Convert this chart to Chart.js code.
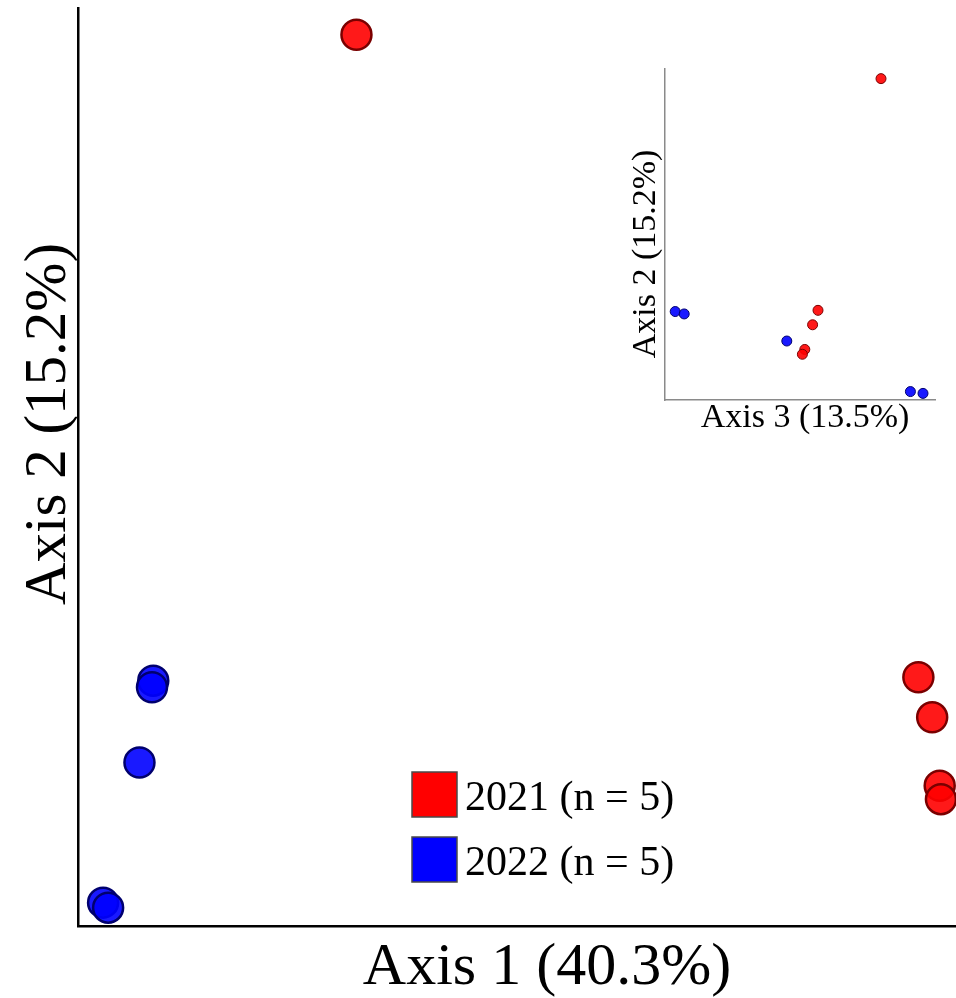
<!DOCTYPE html>
<html>
<head>
<meta charset="utf-8">
<script src="https://cdn.jsdelivr.net/npm/chart.js@4/dist/chart.umd.min.js"></script>
<style>
  body { margin: 0; background: #fff; }
  #wrap { position: relative; width: 956px; height: 998px; }
  #main { position: absolute; left: 0; top: 0; }
  #inset { position: absolute; left: 600px; top: 50px; }
</style>
</head>
<body>
<div id="wrap">
  <canvas id="main" width="956" height="998"></canvas>
  <canvas id="inset" width="356" height="400"></canvas>
</div>
<script>
// grupos y coordenadas PCoA de cada muestra
var grupos = ["2021 (n = 5)", "2022 (n = 5)"];
var eje1_2021 = [-0.078, 0.370, 0.381, 0.387, 0.388];
var eje2_2021 = [0.334, -0.051, -0.075, -0.116, -0.124];
var eje3_2021 = [0.110, 0.005, -0.004, -0.017, -0.021];
var eje1_2022 = [-0.240, -0.241, -0.251, -0.280, -0.276];
var eje2_2022 = [-0.053, -0.057, -0.102, -0.186, -0.189];
var eje3_2022 = [-0.233, -0.218, -0.047, 0.159, 0.180];
var titulosEjes = ["Axis 1 (40.3%)", "Axis 2 (15.2%)", "Axis 3 (13.5%)"];

var relleno = ['rgba(255, 0, 0, 0.9)', 'rgba(0, 0, 255, 0.9)'];
var borde = ['#7a0000', '#00006e'];
var leyendaColor = ['#ff0000', '#0000ff'];

function puntos(xs, ys) {
    return xs.map(function(v, i){ return {x: v, y: ys[i]}; });
}

// titulos de ejes y leyenda dibujados a mano
var textos = {
    id: 'textos',
    afterDraw: function(chart, args, opts) {
        var ctx = chart.ctx;
        ctx.save();
        ctx.fillStyle = '#000';
        ctx.textAlign = 'center';
        ctx.textBaseline = 'alphabetic';
        (opts.titulos || []).forEach(function(t){
            ctx.save();
            ctx.translate(t.x, t.y);
            if (t.rot) ctx.rotate(-Math.PI / 2);
            ctx.font = t.size + 'px "Liberation Serif", "Times New Roman", serif';
            ctx.fillText(t.text, 0, 0);
            ctx.restore();
        });
        var l = opts.leyenda;
        if (l) {
            ctx.textAlign = 'left';
            ctx.font = l.size + 'px "Liberation Serif", "Times New Roman", serif';
            grupos.forEach(function(g, i){
                var y = l.y + i * l.paso;
                ctx.fillStyle = leyendaColor[i];
                ctx.fillRect(l.x, y, l.caja, l.caja);
                ctx.strokeStyle = '#4a4a4a';
                ctx.lineWidth = 1.5;
                ctx.strokeRect(l.x, y, l.caja, l.caja);
                ctx.fillStyle = '#000';
                ctx.fillText(g, l.x + l.caja + 8, y + l.caja - 7);
            });
        }
        ctx.restore();
    }
};

function escala(min, max, color, ancho) {
    return {
        min: min, max: max,
        ticks: {display: false},
        grid: {display: false, drawTicks: false},
        border: {display: true, color: color, width: ancho}
    };
}

function serie(i, xs, ys, radio, bw) {
    return {
        label: grupos[i],
        data: puntos(xs, ys),
        backgroundColor: relleno[i],
        borderColor: borde[i],
        borderWidth: bw,
        pointRadius: radio,
        pointHoverRadius: radio,
        clip: false
    };
}

// grafico principal: eje 1 vs eje 2
new Chart(document.getElementById("main"), {
    type: 'scatter',
    data: {
        datasets: [
            serie(0, eje1_2021, eje2_2021, 15, 2.5),
            serie(1, eje1_2022, eje2_2022, 15, 2.5)
        ]
    },
    options: {
        responsive: false,
        animation: false,
        events: [],
        layout: {padding: {left: 78, right: 0, top: 8, bottom: 72}, autoPadding: false},
        scales: {
            x: escala(-0.3, 0.4, '#000', 2.5),
            y: escala(-0.2, 0.35, '#000', 2.5)
        },
        plugins: {
            legend: {display: false},
            tooltip: {enabled: false},
            textos: {
                titulos: [
                    {text: titulosEjes[0], x: 547, y: 984, size: 60},
                    {text: titulosEjes[1], x: 65, y: 424, size: 59, rot: true}
                ],
                leyenda: {x: 412, y: 772, paso: 65, caja: 45, size: 42}
            }
        }
    },
    plugins: [textos]
});

// recuadro: eje 3 vs eje 2
new Chart(document.getElementById("inset"), {
    type: 'scatter',
    data: {
        datasets: [
            serie(0, eje3_2021, eje2_2021, 5, 1),
            serie(1, eje3_2022, eje2_2022, 5, 1)
        ]
    },
    options: {
        responsive: false,
        animation: false,
        events: [],
        layout: {padding: {left: 65, right: 21, top: 19, bottom: 50}, autoPadding: false},
        scales: {
            x: escala(-0.25, 0.2, '#8a8a8a', 1.5),
            y: escala(-0.2, 0.35, '#8a8a8a', 1.5)
        },
        plugins: {
            legend: {display: false},
            tooltip: {enabled: false},
            textos: {
                titulos: [
                    {text: titulosEjes[2], x: 205, y: 377, size: 34},
                    {text: titulosEjes[1], x: 55, y: 204, size: 34, rot: true}
                ]
            }
        }
    },
    plugins: [textos]
});
</script>
</body>
</html>
